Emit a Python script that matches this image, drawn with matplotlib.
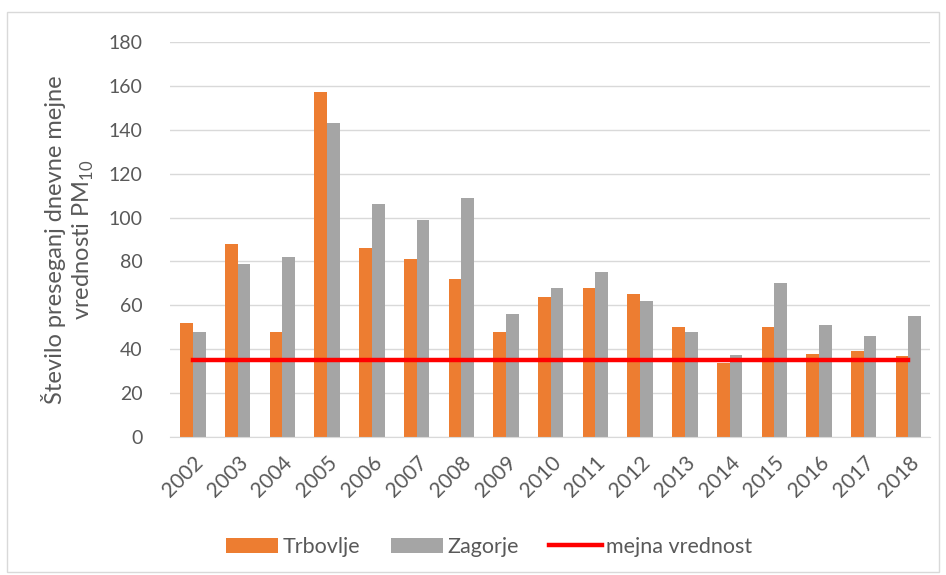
import matplotlib.pyplot as plt
import matplotlib.patches as mpatches
import numpy as np

plt.rcParams['font.family'] = ['Lato', 'DejaVu Sans']
plt.rcParams['mathtext.fontset'] = 'custom'
plt.rcParams['mathtext.rm'] = 'Lato'

years = ['2002', '2003', '2004', '2005', '2006', '2007', '2008', '2009', '2010',
         '2011', '2012', '2013', '2014', '2015', '2016', '2017', '2018']
trbovlje = [52, 88, 48, 157, 86, 81, 72, 48, 64, 68, 65, 50, 33.5, 50, 38, 39, 37]
zagorje = [48, 79, 82, 143, 106, 99, 109, 56, 68, 75, 62, 48, 37.5, 70, 51, 46, 55]
mejna = [35] * len(years)

txt = '#595959'
x = np.arange(len(years))
w = 0.284

fig = plt.figure(figsize=(9.46, 5.75), dpi=100)
ax = fig.add_axes([0.18, 0.24, 0.803, 0.687])

b1 = ax.bar(x - w / 2, trbovlje, w, color='#ED7D31', label='Trbovlje', zorder=2)
b2 = ax.bar(x + w / 2, zagorje, w, color='#A5A5A5', label='Zagorje', zorder=2)
l1, = ax.plot(x, mejna, color='#FF0000', lw=3.2, label='mejna vrednost', zorder=3)

ax.set_xlim(-0.507, len(years) - 1 + 0.48)
ax.set_ylim(0, 180)
ax.set_yticks(range(0, 181, 20))
ax.set_xticks(x)
ax.set_xticklabels(years, rotation=45, ha='right', rotation_mode='anchor')
ax.tick_params(axis='both', length=0, labelcolor=txt)
ax.tick_params(axis='y', pad=20, labelsize=14)
ax.tick_params(axis='x', pad=11, labelsize=15)
ax.grid(axis='y', color='#D9D9D9', lw=1, zorder=0)
for s in ['top', 'right', 'left']:
    ax.spines[s].set_visible(False)
ax.spines['bottom'].set_color('#D9D9D9')

ax.set_ylabel('Število preseganj dnevne mejne\nvrednosti PM$_{10}$', fontsize=17,
              color=txt, labelpad=9, linespacing=1.25)

fig.legend(handles=[b1, b2, l1], loc='center', bbox_to_anchor=(0.517, 0.049), ncol=3,
           frameon=False, fontsize=15.5, labelcolor=txt, handlelength=2.45,
           handleheight=0.7, handletextpad=0.2, columnspacing=1.4)

# outer chart border
fig.patches.append(mpatches.Rectangle((0.007, 0.005), 0.986, 0.975, transform=fig.transFigure,
                                      fill=False, edgecolor='#D9D9D9', lw=1))

fig.savefig('out.png', dpi=100)
